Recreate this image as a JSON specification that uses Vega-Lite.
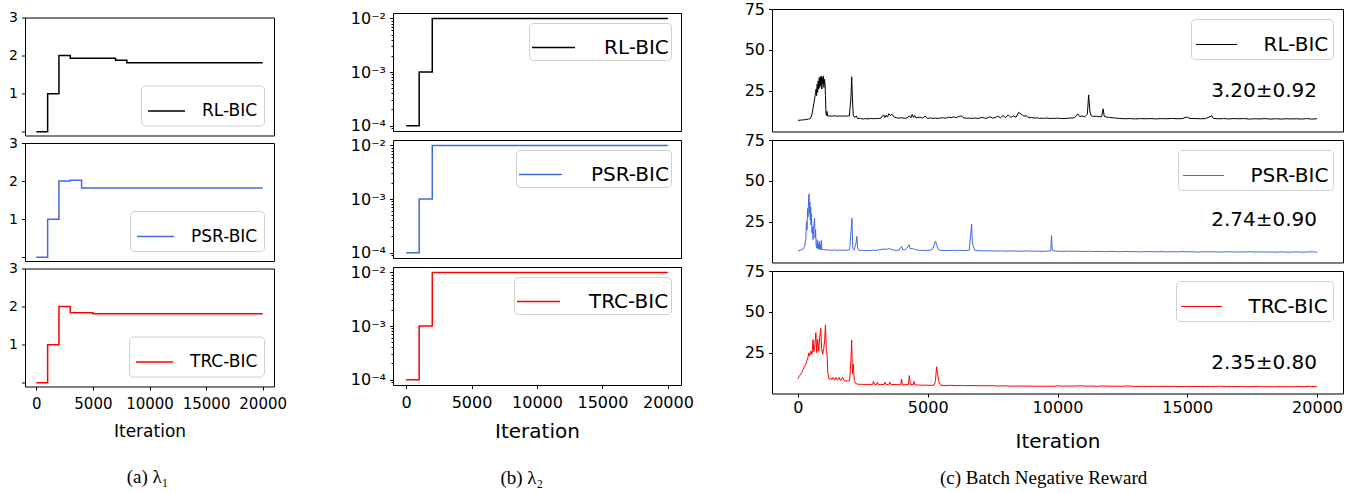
{
"$schema": "https://vega.github.io/schema/vega-lite/v6.json",
"background": "white",
"padding": {"left": 8, "top": 0, "right": 0, "bottom": 0},
"config": {
  "font": "DejaVu Sans",
  "view": {"stroke": "black", "strokeWidth": 1},
  "axis": {"domain": false, "grid": false, "tickColor": "black", "tickSize": 3.5, "tickWidth": 1, "labelColor": "black", "labelFont": "DejaVu Sans", "titleFont": "DejaVu Sans", "titleFontWeight": "normal", "titleColor": "black", "labelPadding": 4},
  "legend": {"symbolType": "stroke", "labelFont": "DejaVu Sans", "labelColor": "black", "strokeColor": "#d0d0d0", "fillColor": "white", "cornerRadius": 4},
  "title": {"font": "Liberation Serif", "fontWeight": "normal", "color": "black"}
},
"datasets": {
  "a1": [{"it":0,"v":0},{"it":1000,"v":1},{"it":2000,"v":2},{"it":3000,"v":1.93},{"it":7000,"v":1.88},{"it":8000,"v":1.81},{"it":20000,"v":1.81}],
  "a2": [{"it":0,"v":0},{"it":1000,"v":1},{"it":2000,"v":2},{"it":3000,"v":2.02},{"it":4000,"v":1.82},{"it":20000,"v":1.82}],
  "a3": [{"it":0,"v":0},{"it":1000,"v":1},{"it":2000,"v":2},{"it":3000,"v":1.84},{"it":5000,"v":1.81},{"it":20000,"v":1.81}],
  "b": [{"it":0,"v":0.0001},{"it":1000,"v":0.001},{"it":2000,"v":0.01},{"it":20000,"v":0.01}],
  "c1": [{"it":0,"v":6.8},{"it":100,"v":7.0},{"it":200,"v":7.1},{"it":300,"v":7.3},{"it":400,"v":7.6},{"it":480,"v":8.0},{"it":540,"v":10.5},{"it":580,"v":14},{"it":620,"v":18},{"it":650,"v":21},{"it":680,"v":24},{"it":700,"v":26},{"it":720,"v":22},{"it":740,"v":29},{"it":760,"v":24},{"it":780,"v":31},{"it":800,"v":26},{"it":820,"v":33},{"it":840,"v":27},{"it":860,"v":33.5},{"it":880,"v":28},{"it":900,"v":34},{"it":920,"v":26},{"it":940,"v":33},{"it":960,"v":29},{"it":980,"v":34},{"it":1000,"v":27},{"it":1020,"v":32},{"it":1040,"v":30},{"it":1060,"v":22},{"it":1080,"v":11},{"it":1100,"v":9.8},{"it":1120,"v":12.3},{"it":1140,"v":9.6},{"it":1200,"v":9.5},{"it":1300,"v":9.4},{"it":1400,"v":9.6},{"it":1500,"v":9.4},{"it":1600,"v":9.5},{"it":1700,"v":9.4},{"it":1800,"v":9.5},{"it":1900,"v":9.4},{"it":1980,"v":9.6},{"it":2040,"v":20},{"it":2070,"v":33.5},{"it":2100,"v":20},{"it":2130,"v":10},{"it":2180,"v":8.6},{"it":2250,"v":9.5},{"it":2300,"v":7.8},{"it":2400,"v":8.1},{"it":2500,"v":7.6},{"it":2600,"v":7.9},{"it":2700,"v":7.7},{"it":2800,"v":8.0},{"it":2900,"v":7.8},{"it":3000,"v":8.0},{"it":3100,"v":7.9},{"it":3200,"v":8.3},{"it":3300,"v":10.2},{"it":3350,"v":8.5},{"it":3400,"v":9.9},{"it":3450,"v":8.8},{"it":3500,"v":10.9},{"it":3560,"v":9.8},{"it":3620,"v":10.6},{"it":3700,"v":8.9},{"it":3800,"v":8.4},{"it":3900,"v":8.2},{"it":4000,"v":8.4},{"it":4100,"v":8.1},{"it":4200,"v":8.3},{"it":4300,"v":9.6},{"it":4350,"v":8.4},{"it":4400,"v":10.4},{"it":4450,"v":8.6},{"it":4500,"v":9.8},{"it":4550,"v":8.3},{"it":4700,"v":8.8},{"it":4800,"v":8.2},{"it":4900,"v":9.4},{"it":5000,"v":8.1},{"it":5100,"v":8.3},{"it":5200,"v":8.0},{"it":5300,"v":8.2},{"it":5400,"v":8.0},{"it":5500,"v":8.3},{"it":5600,"v":8.4},{"it":5700,"v":8.1},{"it":5800,"v":8.8},{"it":5900,"v":8.4},{"it":6000,"v":9.0},{"it":6100,"v":8.5},{"it":6200,"v":9.2},{"it":6300,"v":9.5},{"it":6400,"v":8.3},{"it":6500,"v":8.1},{"it":6600,"v":8.2},{"it":6700,"v":8.0},{"it":6800,"v":8.3},{"it":6900,"v":8.0},{"it":7000,"v":8.2},{"it":7100,"v":8.7},{"it":7200,"v":8.1},{"it":7300,"v":8.3},{"it":7400,"v":9.0},{"it":7500,"v":8.2},{"it":7600,"v":8.5},{"it":7700,"v":9.4},{"it":7800,"v":8.4},{"it":7900,"v":9.8},{"it":8000,"v":8.5},{"it":8100,"v":10.2},{"it":8200,"v":8.6},{"it":8300,"v":9.6},{"it":8400,"v":8.7},{"it":8500,"v":11.7},{"it":8600,"v":10.6},{"it":8700,"v":9.5},{"it":8800,"v":9.6},{"it":8900,"v":8.4},{"it":9000,"v":8.6},{"it":9100,"v":8.2},{"it":9200,"v":8.4},{"it":9300,"v":8.0},{"it":9400,"v":8.2},{"it":9500,"v":8.0},{"it":9600,"v":8.3},{"it":9700,"v":7.9},{"it":9800,"v":8.1},{"it":9900,"v":8.0},{"it":10000,"v":8.2},{"it":10100,"v":8.0},{"it":10200,"v":7.9},{"it":10400,"v":8.1},{"it":10500,"v":8.3},{"it":10600,"v":8.2},{"it":10700,"v":9.1},{"it":10780,"v":10.8},{"it":10850,"v":9.2},{"it":10950,"v":9.5},{"it":11050,"v":9.0},{"it":11150,"v":10.5},{"it":11200,"v":22.4},{"it":11250,"v":12},{"it":11300,"v":9.6},{"it":11400,"v":9.2},{"it":11500,"v":9.4},{"it":11600,"v":9.0},{"it":11700,"v":9.1},{"it":11760,"v":13.9},{"it":11800,"v":9.3},{"it":11900,"v":8.8},{"it":12000,"v":8.6},{"it":12200,"v":8.3},{"it":12400,"v":8.0},{"it":12600,"v":7.8},{"it":12800,"v":7.9},{"it":13000,"v":7.7},{"it":13200,"v":7.9},{"it":13400,"v":7.8},{"it":13600,"v":7.9},{"it":13800,"v":7.7},{"it":14000,"v":7.9},{"it":14200,"v":7.8},{"it":14400,"v":8.0},{"it":14600,"v":7.8},{"it":14800,"v":7.9},{"it":14990,"v":8.9},{"it":15100,"v":8.0},{"it":15300,"v":7.9},{"it":15500,"v":7.8},{"it":15700,"v":7.9},{"it":15950,"v":9.6},{"it":16000,"v":8.0},{"it":16200,"v":7.8},{"it":16400,"v":7.9},{"it":16600,"v":7.7},{"it":16800,"v":7.9},{"it":17000,"v":7.8},{"it":17200,"v":7.9},{"it":17400,"v":7.6},{"it":17600,"v":7.8},{"it":17800,"v":7.7},{"it":18000,"v":7.9},{"it":18200,"v":7.6},{"it":18400,"v":7.8},{"it":18600,"v":7.6},{"it":18800,"v":7.8},{"it":19000,"v":7.7},{"it":19200,"v":7.8},{"it":19400,"v":7.6},{"it":19600,"v":7.9},{"it":19800,"v":7.6},{"it":20000,"v":7.8}],
  "c2": [{"it":0,"v":7.0},{"it":100,"v":7.6},{"it":200,"v":8.3},{"it":260,"v":10.0},{"it":300,"v":14},{"it":330,"v":25},{"it":350,"v":20},{"it":370,"v":33},{"it":390,"v":28},{"it":410,"v":40},{"it":430,"v":42},{"it":445,"v":30},{"it":460,"v":37},{"it":475,"v":26},{"it":490,"v":34},{"it":505,"v":23},{"it":520,"v":30},{"it":540,"v":18},{"it":560,"v":22},{"it":580,"v":14},{"it":600,"v":19},{"it":620,"v":24},{"it":640,"v":27},{"it":660,"v":15},{"it":680,"v":20},{"it":700,"v":10.5},{"it":720,"v":9},{"it":740,"v":14},{"it":760,"v":8.5},{"it":780,"v":11.5},{"it":800,"v":8.0},{"it":820,"v":13},{"it":840,"v":8.2},{"it":860,"v":11},{"it":880,"v":7.7},{"it":900,"v":13.5},{"it":920,"v":7.8},{"it":940,"v":8.0},{"it":1000,"v":7.9},{"it":1100,"v":7.6},{"it":1200,"v":7.7},{"it":1300,"v":7.5},{"it":1400,"v":7.7},{"it":1500,"v":7.4},{"it":1600,"v":7.6},{"it":1700,"v":7.5},{"it":1800,"v":7.6},{"it":1900,"v":7.4},{"it":1990,"v":7.8},{"it":2050,"v":20},{"it":2080,"v":27},{"it":2110,"v":8.5},{"it":2160,"v":7.6},{"it":2240,"v":12},{"it":2270,"v":16},{"it":2300,"v":9},{"it":2340,"v":7.5},{"it":2400,"v":7.3},{"it":2500,"v":7.5},{"it":2600,"v":7.2},{"it":2700,"v":7.4},{"it":2800,"v":7.3},{"it":2900,"v":7.6},{"it":3000,"v":7.4},{"it":3100,"v":7.7},{"it":3200,"v":7.9},{"it":3300,"v":8.3},{"it":3400,"v":8.0},{"it":3500,"v":8.5},{"it":3600,"v":8.0},{"it":3700,"v":7.6},{"it":3800,"v":7.4},{"it":3900,"v":7.6},{"it":3990,"v":9.8},{"it":4050,"v":7.6},{"it":4150,"v":7.9},{"it":4280,"v":10.8},{"it":4330,"v":8.3},{"it":4400,"v":8.6},{"it":4500,"v":8.0},{"it":4600,"v":7.7},{"it":4700,"v":7.4},{"it":4800,"v":7.5},{"it":4900,"v":7.3},{"it":5000,"v":7.4},{"it":5100,"v":7.5},{"it":5200,"v":8.5},{"it":5260,"v":11.5},{"it":5300,"v":13},{"it":5350,"v":10.5},{"it":5400,"v":8.0},{"it":5500,"v":7.4},{"it":5600,"v":7.3},{"it":5700,"v":7.4},{"it":5800,"v":7.3},{"it":5900,"v":7.5},{"it":6000,"v":7.4},{"it":6100,"v":7.3},{"it":6200,"v":7.5},{"it":6300,"v":7.4},{"it":6400,"v":7.3},{"it":6500,"v":7.4},{"it":6600,"v":7.6},{"it":6660,"v":18},{"it":6690,"v":23.5},{"it":6720,"v":12},{"it":6760,"v":9.8},{"it":6800,"v":7.6},{"it":6900,"v":7.3},{"it":7000,"v":7.2},{"it":7200,"v":7.1},{"it":7400,"v":7.2},{"it":7600,"v":7.0},{"it":7800,"v":7.1},{"it":8000,"v":6.9},{"it":8200,"v":7.1},{"it":8400,"v":7.0},{"it":8600,"v":6.9},{"it":8800,"v":7.1},{"it":9000,"v":6.9},{"it":9200,"v":7.0},{"it":9400,"v":6.8},{"it":9600,"v":7.0},{"it":9740,"v":7.2},{"it":9770,"v":16.5},{"it":9800,"v":7.4},{"it":9900,"v":7.0},{"it":10000,"v":6.9},{"it":10200,"v":6.8},{"it":10400,"v":7.0},{"it":10600,"v":6.8},{"it":10800,"v":6.9},{"it":11000,"v":6.7},{"it":11200,"v":6.9},{"it":11400,"v":6.7},{"it":11600,"v":6.8},{"it":11800,"v":6.6},{"it":12000,"v":6.8},{"it":12200,"v":6.7},{"it":12400,"v":6.6},{"it":12600,"v":6.8},{"it":12800,"v":6.6},{"it":13000,"v":6.7},{"it":13200,"v":6.5},{"it":13400,"v":6.7},{"it":13600,"v":6.6},{"it":13800,"v":6.5},{"it":14000,"v":6.7},{"it":14200,"v":6.5},{"it":14400,"v":6.6},{"it":14600,"v":6.5},{"it":14800,"v":6.7},{"it":15000,"v":6.5},{"it":15200,"v":6.6},{"it":15400,"v":6.4},{"it":15600,"v":6.6},{"it":15800,"v":6.5},{"it":16000,"v":6.6},{"it":16200,"v":6.4},{"it":16400,"v":6.5},{"it":16600,"v":6.6},{"it":16800,"v":6.4},{"it":17000,"v":6.5},{"it":17200,"v":6.4},{"it":17400,"v":6.6},{"it":17600,"v":6.4},{"it":17800,"v":6.5},{"it":18000,"v":6.4},{"it":18200,"v":6.5},{"it":18400,"v":6.3},{"it":18600,"v":6.5},{"it":18800,"v":6.4},{"it":19000,"v":6.3},{"it":19200,"v":6.5},{"it":19400,"v":6.3},{"it":19600,"v":6.4},{"it":19800,"v":6.6},{"it":20000,"v":6.3}],
  "c3": [{"it":0,"v":9.0},{"it":50,"v":10.5},{"it":100,"v":11.7},{"it":150,"v":13.0},{"it":200,"v":14.8},{"it":250,"v":16.5},{"it":300,"v":17.8},{"it":340,"v":20.0},{"it":380,"v":21.9},{"it":420,"v":24.9},{"it":450,"v":22.9},{"it":500,"v":26.0},{"it":540,"v":24.0},{"it":580,"v":33.0},{"it":610,"v":25.5},{"it":650,"v":29.0},{"it":690,"v":37.2},{"it":720,"v":25.0},{"it":760,"v":33.0},{"it":800,"v":26.0},{"it":840,"v":35.0},{"it":880,"v":40.0},{"it":910,"v":28.0},{"it":950,"v":24.0},{"it":990,"v":27.0},{"it":1030,"v":33.0},{"it":1060,"v":42.0},{"it":1090,"v":27.0},{"it":1120,"v":24.0},{"it":1150,"v":12.7},{"it":1200,"v":8.6},{"it":1260,"v":9.5},{"it":1300,"v":8.3},{"it":1350,"v":9.8},{"it":1420,"v":8.2},{"it":1460,"v":9.8},{"it":1520,"v":8.1},{"it":1580,"v":9.9},{"it":1640,"v":7.9},{"it":1720,"v":9.9},{"it":1780,"v":7.8},{"it":1900,"v":7.7},{"it":1990,"v":7.8},{"it":2040,"v":20.0},{"it":2070,"v":32.7},{"it":2100,"v":12.0},{"it":2130,"v":17.9},{"it":2170,"v":8.0},{"it":2220,"v":6.2},{"it":2300,"v":5.7},{"it":2400,"v":5.6},{"it":2500,"v":5.6},{"it":2600,"v":5.5},{"it":2700,"v":5.6},{"it":2800,"v":5.5},{"it":2880,"v":5.6},{"it":2910,"v":7.6},{"it":2950,"v":5.6},{"it":3030,"v":5.5},{"it":3060,"v":6.9},{"it":3100,"v":5.5},{"it":3200,"v":5.6},{"it":3320,"v":5.5},{"it":3350,"v":7.0},{"it":3400,"v":5.5},{"it":3500,"v":5.5},{"it":3540,"v":7.0},{"it":3580,"v":5.4},{"it":3700,"v":5.5},{"it":3850,"v":5.4},{"it":3960,"v":5.4},{"it":3990,"v":8.8},{"it":4030,"v":5.3},{"it":4150,"v":5.4},{"it":4260,"v":5.5},{"it":4290,"v":11.0},{"it":4330,"v":5.6},{"it":4440,"v":5.3},{"it":4470,"v":7.4},{"it":4510,"v":5.2},{"it":4650,"v":5.2},{"it":4800,"v":5.1},{"it":4950,"v":5.1},{"it":5100,"v":5.0},{"it":5250,"v":5.1},{"it":5300,"v":8.0},{"it":5340,"v":16.4},{"it":5380,"v":12.0},{"it":5430,"v":7.4},{"it":5500,"v":5.0},{"it":5700,"v":4.9},{"it":5900,"v":5.0},{"it":6100,"v":4.8},{"it":6300,"v":4.9},{"it":6500,"v":4.8},{"it":6700,"v":4.9},{"it":6900,"v":4.7},{"it":7100,"v":4.8},{"it":7300,"v":4.7},{"it":7500,"v":4.8},{"it":7700,"v":4.6},{"it":7900,"v":4.7},{"it":8100,"v":4.6},{"it":8300,"v":4.5},{"it":8500,"v":4.6},{"it":8700,"v":4.5},{"it":8900,"v":4.6},{"it":9100,"v":4.4},{"it":9300,"v":4.5},{"it":9500,"v":4.4},{"it":9700,"v":4.5},{"it":9900,"v":4.4},{"it":10000,"v":4.8},{"it":10100,"v":4.5},{"it":10300,"v":4.6},{"it":10500,"v":4.5},{"it":10700,"v":4.6},{"it":10900,"v":4.7},{"it":11100,"v":4.5},{"it":11300,"v":4.6},{"it":11500,"v":4.4},{"it":11700,"v":4.6},{"it":11900,"v":4.5},{"it":12100,"v":4.4},{"it":12300,"v":4.5},{"it":12500,"v":4.4},{"it":12700,"v":4.6},{"it":12900,"v":4.4},{"it":13100,"v":4.3},{"it":13300,"v":4.4},{"it":13500,"v":4.3},{"it":13700,"v":4.4},{"it":13900,"v":4.3},{"it":14100,"v":4.4},{"it":14300,"v":4.3},{"it":14500,"v":4.4},{"it":14700,"v":4.2},{"it":14900,"v":4.3},{"it":15100,"v":4.2},{"it":15300,"v":4.3},{"it":15500,"v":4.2},{"it":15700,"v":4.3},{"it":15900,"v":4.2},{"it":16100,"v":4.3},{"it":16300,"v":4.5},{"it":16500,"v":4.2},{"it":16700,"v":4.3},{"it":16900,"v":4.2},{"it":17100,"v":4.3},{"it":17300,"v":4.1},{"it":17500,"v":4.2},{"it":17700,"v":4.3},{"it":17900,"v":4.1},{"it":18100,"v":4.2},{"it":18300,"v":4.1},{"it":18500,"v":4.2},{"it":18700,"v":4.1},{"it":18900,"v":4.2},{"it":19100,"v":4.1},{"it":19300,"v":4.3},{"it":19500,"v":4.1},{"it":19700,"v":4.5},{"it":19800,"v":4.2},{"it":20000,"v":4.2}]
},
"spacing": 61,
"resolve": {"scale": {"x": "independent", "y": "independent", "color": "independent"}, "legend": {"color": "independent"}, "axis": {"x": "independent", "y": "independent"}},
"hconcat": [
 {
  "title": {"text": "(a)  λ₁", "orient": "bottom", "anchor": "middle", "offset": 28, "fontSize": 19},
  "spacing": 7.5,
  "bounds": "flush",
  "resolve": {"scale": {"x": "independent", "y": "independent", "color": "independent"}, "legend": {"color": "independent"}, "axis": {"x": "independent", "y": "independent"}},
  "vconcat": [
   {"width": 249, "height": 9.8, "data": {"values": []}, "mark": "point", "view": {"stroke": null}},
   {"width": 249, "height": 118, "data": {"name": "a1"},
    "mark": {"type": "line", "interpolate": "step-after", "strokeWidth": 1.5},
    "encoding": {
     "x": {"field": "it", "type": "quantitative", "scale": {"domain": [-1000, 21000], "nice": false, "zero": false}, "axis": null},
     "y": {"field": "v", "type": "quantitative", "scale": {"domain": [-0.1, 3], "nice": false, "zero": false}, "axis": {"values": [0, 1, 2, 3], "labelExpr": "datum.value == 0 ? '' : datum.label", "title": null, "labelFontSize": 14}},
     "color": {"datum": "RL-BIC", "type": "nominal", "scale": {"domain": ["RL-BIC"], "range": ["black"]}, "legend": {"title": null, "orient": "bottom-right", "offset": 10, "symbolSize": 1369, "symbolStrokeWidth": 1.5, "symbolStrokeColor": "black", "labelFontSize": 17, "padding": 6, "labelOffset": 16}}
    }},
   {"width": 249, "height": 118, "data": {"name": "a2"},
    "mark": {"type": "line", "interpolate": "step-after", "strokeWidth": 1.5},
    "encoding": {
     "x": {"field": "it", "type": "quantitative", "scale": {"domain": [-1000, 21000], "nice": false, "zero": false}, "axis": null},
     "y": {"field": "v", "type": "quantitative", "scale": {"domain": [-0.1, 3], "nice": false, "zero": false}, "axis": {"values": [0, 1, 2, 3], "labelExpr": "datum.value == 0 ? '' : datum.label", "title": null, "labelFontSize": 14}},
     "color": {"datum": "PSR-BIC", "type": "nominal", "scale": {"domain": ["PSR-BIC"], "range": ["#4169e1"]}, "legend": {"title": null, "orient": "bottom-right", "offset": 10, "symbolSize": 1369, "symbolStrokeWidth": 1.5, "symbolStrokeColor": "#4169e1", "labelFontSize": 17, "padding": 6, "labelOffset": 16}}
    }},
   {"width": 249, "height": 118, "data": {"name": "a3"},
    "mark": {"type": "line", "interpolate": "step-after", "strokeWidth": 1.5},
    "encoding": {
     "x": {"field": "it", "type": "quantitative", "scale": {"domain": [-1000, 21000], "nice": false, "zero": false}, "axis": {"values": [0, 5000, 10000, 15000, 20000], "format": "d", "title": "Iteration", "labelFontSize": 15, "titleFontSize": 17, "labelPadding": 6, "titlePadding": 12}},
     "y": {"field": "v", "type": "quantitative", "scale": {"domain": [-0.1, 3], "nice": false, "zero": false}, "axis": {"values": [0, 1, 2, 3], "labelExpr": "datum.value == 0 ? '' : datum.label", "title": null, "labelFontSize": 14}},
     "color": {"datum": "TRC-BIC", "type": "nominal", "scale": {"domain": ["TRC-BIC"], "range": ["#ff0000"]}, "legend": {"title": null, "orient": "bottom-right", "offset": 10, "symbolSize": 1369, "symbolStrokeWidth": 1.5, "symbolStrokeColor": "#ff0000", "labelFontSize": 17, "padding": 6, "labelOffset": 16}}
    }}
  ]
 },
 {
  "spacing": 49,
  "resolve": {"scale": {"x": "independent", "y": "independent", "color": "independent"}, "legend": {"color": "independent"}, "axis": {"x": "independent", "y": "independent"}},
  "hconcat": [
   {
    "title": {"text": "(b)  λ₂", "orient": "bottom", "anchor": "middle", "offset": 27, "fontSize": 19},
    "spacing": 9,
    "bounds": "flush",
    "resolve": {"scale": {"x": "independent", "y": "independent", "color": "independent"}, "legend": {"color": "independent"}, "axis": {"x": "independent", "y": "independent"}},
    "vconcat": [
     {"width": 288, "height": 3.7, "data": {"values": []}, "mark": "point", "view": {"stroke": null}},
     {"width": 288, "height": 118, "data": {"name": "b"},
      "mark": {"type": "line", "interpolate": "step-after", "strokeWidth": 1.5},
      "encoding": {
       "x": {"field": "it", "type": "quantitative", "scale": {"domain": [-1000, 21000], "nice": false, "zero": false}, "axis": null},
       "y": {"field": "v", "type": "quantitative", "scale": {"type": "log", "domain": [0.0000794, 0.0126], "nice": false}, "axis": {"values": [0.00009, 0.0001, 0.0002, 0.0003, 0.0004, 0.0005, 0.0006, 0.0007, 0.0008, 0.0009, 0.001, 0.002, 0.003, 0.004, 0.005, 0.006, 0.007, 0.008, 0.009, 0.01], "labelExpr": "datum.value == 0.01 ? '10⁻²' : datum.value == 0.001 ? '10⁻³' : datum.value == 0.0001 ? '10⁻⁴' : ''", "tickSize": {"condition": {"test": "datum.value == 0.01 || datum.value == 0.001 || datum.value == 0.0001", "value": 3.5}, "value": 2}, "title": null, "labelFontSize": 16}},
       "color": {"datum": "RL-BIC", "type": "nominal", "scale": {"domain": ["RL-BIC"], "range": ["black"]}, "legend": {"title": null, "orient": "top-right", "offset": 10, "symbolSize": 1849, "symbolStrokeWidth": 1.5, "symbolStrokeColor": "black", "labelFontSize": 20, "padding": 2, "labelOffset": 28}}
      }},
     {"width": 288, "height": 118, "data": {"name": "b"},
      "mark": {"type": "line", "interpolate": "step-after", "strokeWidth": 1.5},
      "encoding": {
       "x": {"field": "it", "type": "quantitative", "scale": {"domain": [-1000, 21000], "nice": false, "zero": false}, "axis": null},
       "y": {"field": "v", "type": "quantitative", "scale": {"type": "log", "domain": [0.0000794, 0.0126], "nice": false}, "axis": {"values": [0.00009, 0.0001, 0.0002, 0.0003, 0.0004, 0.0005, 0.0006, 0.0007, 0.0008, 0.0009, 0.001, 0.002, 0.003, 0.004, 0.005, 0.006, 0.007, 0.008, 0.009, 0.01], "labelExpr": "datum.value == 0.01 ? '10⁻²' : datum.value == 0.001 ? '10⁻³' : datum.value == 0.0001 ? '10⁻⁴' : ''", "tickSize": {"condition": {"test": "datum.value == 0.01 || datum.value == 0.001 || datum.value == 0.0001", "value": 3.5}, "value": 2}, "title": null, "labelFontSize": 16}},
       "color": {"datum": "PSR-BIC", "type": "nominal", "scale": {"domain": ["PSR-BIC"], "range": ["#4169e1"]}, "legend": {"title": null, "orient": "top-right", "offset": 10, "symbolSize": 1849, "symbolStrokeWidth": 1.5, "symbolStrokeColor": "#4169e1", "labelFontSize": 20, "padding": 2, "labelOffset": 28}}
      }},
     {"width": 288, "height": 118, "data": {"name": "b"},
      "mark": {"type": "line", "interpolate": "step-after", "strokeWidth": 1.5},
      "encoding": {
       "x": {"field": "it", "type": "quantitative", "scale": {"domain": [-1000, 21000], "nice": false, "zero": false}, "axis": {"values": [0, 5000, 10000, 15000, 20000], "format": "d", "title": "Iteration", "labelFontSize": 16, "titleFontSize": 20, "labelPadding": 6, "titlePadding": 11}},
       "y": {"field": "v", "type": "quantitative", "scale": {"type": "log", "domain": [0.0000794, 0.0126], "nice": false}, "axis": {"values": [0.00009, 0.0001, 0.0002, 0.0003, 0.0004, 0.0005, 0.0006, 0.0007, 0.0008, 0.0009, 0.001, 0.002, 0.003, 0.004, 0.005, 0.006, 0.007, 0.008, 0.009, 0.01], "labelExpr": "datum.value == 0.01 ? '10⁻²' : datum.value == 0.001 ? '10⁻³' : datum.value == 0.0001 ? '10⁻⁴' : ''", "tickSize": {"condition": {"test": "datum.value == 0.01 || datum.value == 0.001 || datum.value == 0.0001", "value": 3.5}, "value": 2}, "title": null, "labelFontSize": 16}},
       "color": {"datum": "TRC-BIC", "type": "nominal", "scale": {"domain": ["TRC-BIC"], "range": ["#ff0000"]}, "legend": {"title": null, "orient": "top-right", "offset": 10, "symbolSize": 1849, "symbolStrokeWidth": 1.5, "symbolStrokeColor": "#ff0000", "labelFontSize": 20, "padding": 2, "labelOffset": 28}}
      }}
    ]
   },
   {
    "title": {"text": "(c)  Batch Negative Reward", "orient": "bottom", "anchor": "middle", "offset": 17, "fontSize": 19},
    "spacing": 8,
    "bounds": "flush",
    "resolve": {"scale": {"x": "independent", "y": "independent", "color": "independent"}, "legend": {"color": "independent"}, "axis": {"x": "independent", "y": "independent"}},
    "vconcat": [
     {"width": 571, "height": 1, "data": {"values": []}, "mark": "point", "view": {"stroke": null}},
     {"width": 571, "height": 122.5,
      "layer": [
       {"data": {"name": "c1"}, "mark": {"type": "line", "strokeWidth": 1},
        "encoding": {
         "x": {"field": "it", "type": "quantitative", "scale": {"domain": [-1000, 21000], "nice": false, "zero": false}, "axis": null},
         "y": {"field": "v", "type": "quantitative", "scale": {"domain": [0, 75], "nice": false}, "axis": {"values": [25, 50, 75], "title": null, "labelFontSize": 16}},
         "color": {"datum": "RL-BIC", "type": "nominal", "scale": {"domain": ["RL-BIC"], "range": ["black"]}, "legend": {"title": null, "orient": "top-right", "offset": 10, "symbolSize": 1681, "symbolStrokeWidth": 1, "symbolStrokeColor": "black", "labelFontSize": 20, "padding": 4.5, "labelOffset": 26}}
        }},
       {"data": {"values": [{"it": 20000, "v": 24.6, "t": "3.20±0.92"}]}, "mark": {"type": "text", "align": "right", "baseline": "middle", "fontSize": 20, "font": "DejaVu Sans", "color": "black"},
        "encoding": {"x": {"field": "it", "type": "quantitative"}, "y": {"field": "v", "type": "quantitative"}, "text": {"field": "t"}}}
      ]},
     {"width": 571, "height": 122.5,
      "layer": [
       {"data": {"name": "c2"}, "mark": {"type": "line", "strokeWidth": 1},
        "encoding": {
         "x": {"field": "it", "type": "quantitative", "scale": {"domain": [-1000, 21000], "nice": false, "zero": false}, "axis": null},
         "y": {"field": "v", "type": "quantitative", "scale": {"domain": [0, 75], "nice": false}, "axis": {"values": [25, 50, 75], "title": null, "labelFontSize": 16}},
         "color": {"datum": "PSR-BIC", "type": "nominal", "scale": {"domain": ["PSR-BIC"], "range": ["#4169e1"]}, "legend": {"title": null, "orient": "top-right", "offset": 10, "symbolSize": 1681, "symbolStrokeWidth": 1, "symbolStrokeColor": "#4169e1", "labelFontSize": 20, "padding": 4.5, "labelOffset": 26}}
        }},
       {"data": {"values": [{"it": 20000, "v": 26.2, "t": "2.74±0.90"}]}, "mark": {"type": "text", "align": "right", "baseline": "middle", "fontSize": 20, "font": "DejaVu Sans", "color": "black"},
        "encoding": {"x": {"field": "it", "type": "quantitative"}, "y": {"field": "v", "type": "quantitative"}, "text": {"field": "t"}}}
      ]},
     {"width": 571, "height": 122.5,
      "layer": [
       {"data": {"name": "c3"}, "mark": {"type": "line", "strokeWidth": 1},
        "encoding": {
         "x": {"field": "it", "type": "quantitative", "scale": {"domain": [-1000, 21000], "nice": false, "zero": false}, "axis": {"values": [0, 5000, 10000, 15000, 20000], "format": "d", "title": "Iteration", "labelFontSize": 16, "titleFontSize": 20, "labelPadding": 2, "titlePadding": 16}},
         "y": {"field": "v", "type": "quantitative", "scale": {"domain": [0, 75], "nice": false}, "axis": {"values": [25, 50, 75], "title": null, "labelFontSize": 16}},
         "color": {"datum": "TRC-BIC", "type": "nominal", "scale": {"domain": ["TRC-BIC"], "range": ["#ff0000"]}, "legend": {"title": null, "orient": "top-right", "offset": 10, "symbolSize": 1681, "symbolStrokeWidth": 1, "symbolStrokeColor": "#ff0000", "labelFontSize": 20, "padding": 4.5, "labelOffset": 26}}
        }},
       {"data": {"values": [{"it": 20000, "v": 18.4, "t": "2.35±0.80"}]}, "mark": {"type": "text", "align": "right", "baseline": "middle", "fontSize": 20, "font": "DejaVu Sans", "color": "black"},
        "encoding": {"x": {"field": "it", "type": "quantitative"}, "y": {"field": "v", "type": "quantitative"}, "text": {"field": "t"}}}
      ]}
    ]
   }
  ]
 }
]
}
